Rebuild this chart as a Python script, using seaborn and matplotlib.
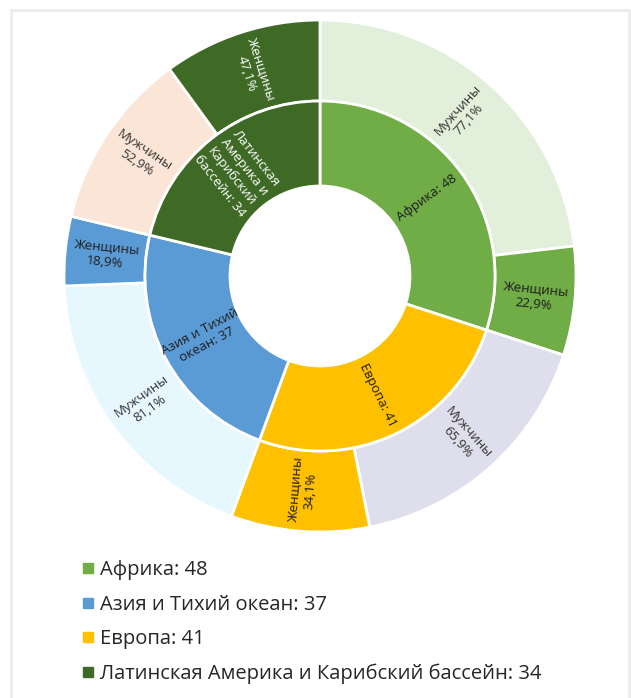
import numpy as np
import matplotlib
matplotlib.use("Agg")
import matplotlib.pyplot as plt
import seaborn as sns
from matplotlib.lines import Line2D
from matplotlib.patches import Rectangle

# Regions (inner ring) and the share of men / women within each (outer ring)
regions = ["Африка", "Европа", "Азия и Тихий океан", "Латинская Америка и Карибский бассейн"]
region_values = [48, 41, 37, 34]
region_labels = ["Африка: 48", "Европа: 41", "Азия и Тихий\nокеан: 37",
                 "Латинская\nАмерика и\nКарибский\nбассейн: 34"]
men_share = [77.1, 65.9, 81.1, 52.9]
women_share = [22.9, 34.1, 18.9, 47.1]
gender_names = ["Мужчины", "Женщины"]

# Legend order
legend_order = ["Африка", "Азия и Тихий океан", "Европа", "Латинская Америка и Карибский бассейн"]

region_colors = ["#70AD47", "#FFC000", "#5B9BD5", "#3E6A26"]
men_colors = ["#E2EFDA", "#DEDEEC", "#E6F7FD", "#FBE5D6"]
region_text = ["#1E1E1E", "#1E1E1E", "#1E1E1E", "#FFFFFF"]
women_text = ["#1E1E1E", "#1E1E1E", "#1E1E1E", "#FFFFFF"]

sns.set_theme(style="white")
plt.rcParams["font.family"] = ["Open Sans", "DejaVu Sans"]

W, H = 631, 698
fig = plt.figure(figsize=(W / 100, H / 100), dpi=100)
fig.patch.set_facecolor("white")

# light frame around the figure
fig.patches.append(Rectangle((11 / W, -0.01), (629 - 11) / W, 1.01 - 10 / H,
                             transform=fig.transFigure, fill=False,
                             edgecolor="#ECECEC", linewidth=2))

cx, cy, R = 320, 276, 256
ax = fig.add_axes([(cx - R) / W, (H - cy - R) / H, 2 * R / W, 2 * R / H])
ax.set_xlim(-1, 1)
ax.set_ylim(-1, 1)
ax.set_aspect("equal")
ax.axis("off")

r_inner_out = 175 / R
r_hole = 90 / R

# outer ring: men then women for each region, weighted by the region size
outer_vals, outer_cols, outer_lbls, outer_txt = [], [], [], []
for i, v in enumerate(region_values):
    for g, share in enumerate([men_share[i], women_share[i]]):
        outer_vals.append(v * share / 100)
        outer_cols.append(men_colors[i] if g == 0 else region_colors[i])
        outer_lbls.append(f"{gender_names[g]}\n{share:.1f}%".replace(".", ","))
        outer_txt.append("#333333" if g == 0 else women_text[i])

wp = dict(edgecolor="white", linewidth=2.0)
outer_wedges, _ = ax.pie(outer_vals, radius=1.0, colors=outer_cols, startangle=90,
                         counterclock=False, wedgeprops=dict(width=1 - r_inner_out, **wp))
inner_wedges, _ = ax.pie(region_values, radius=r_inner_out, colors=region_colors, startangle=90,
                         counterclock=False,
                         wedgeprops=dict(width=r_inner_out - r_hole, **wp))
ax.set_xlim(-1, 1)
ax.set_ylim(-1, 1)


def radial_label(w, text, color, size):
    ang = 0.5 * (w.theta1 + w.theta2)
    r = w.r - w.width / 2
    x, y = r * np.cos(np.radians(ang)), r * np.sin(np.radians(ang))
    rot = (ang + 180) % 360 - 180
    if rot > 90:
        rot -= 180
    elif rot < -90:
        rot += 180
    ax.text(x, y, text, rotation=rot, rotation_mode="anchor", ha="center", va="center",
            color=color, fontsize=size, linespacing=1.2, multialignment="center")


for w, t, c in zip(outer_wedges, outer_lbls, outer_txt):
    radial_label(w, t, c, 9.5)
for w, t, c in zip(inner_wedges, region_labels, region_text):
    radial_label(w, t, c, 9.5)

# legend
handles = []
labels = []
for name in legend_order:
    i = regions.index(name)
    handles.append(Line2D([], [], marker="s", linestyle="none", markersize=6.5,
                          markerfacecolor=region_colors[i], markeredgecolor=region_colors[i]))
    labels.append(f"{name}: {region_values[i]}")
leg = fig.legend(handles, labels, loc="upper left", bbox_to_anchor=(74 / W, 1 - 552 / H),
                 frameon=False, fontsize=14.5, handlelength=0.55, handletextpad=0.35,
                 labelspacing=0.72, borderaxespad=0)
for t in leg.get_texts():
    t.set_color("#262626")

fig.savefig("out.png", dpi=100, facecolor="white")
